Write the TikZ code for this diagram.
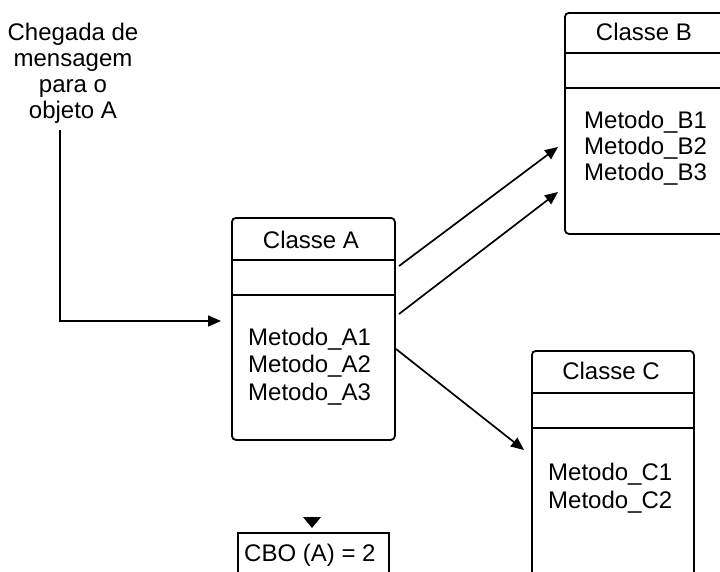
\documentclass[tikz,border=0pt]{standalone}
\usepackage{fontspec}
\setmainfont{Liberation Sans}
\usetikzlibrary{arrows.meta}
\begin{document}
\begin{tikzpicture}[x=1pt,y=-1pt,
  every node/.style={inner sep=0pt},
  txt/.style={font=\fontsize{24}{27.5}\selectfont},
  classbox/.style={draw, line width=1.8pt, rounded corners=4pt, anchor=north west, minimum width=163pt},
  plainbox/.style={draw, line width=1.8pt, anchor=north west},
  link/.style={line width=1.7pt, -{Triangle[length=13pt,width=11pt]}},
  divider/.style={line width=1.8pt}]
\useasboundingbox (0,0) rectangle (720,571);
\clip (0,0) rectangle (720,571);

% incoming message
\node[txt, align=center, font=\fontsize{24}{25.7}\selectfont, anchor=base] (msg) at (73,118)
  {Chegada de\\mensagem\\para o\\objeto A};
\coordinate (msg-out) at (60,130);
\coordinate (a-in) at (221,321);

% class A
\node[classbox, minimum height=222pt] (A) at (231,217) {};
\draw[divider] ([yshift=-43pt]A.north west) -- ([yshift=-43pt]A.north east);
\draw[divider] ([yshift=-78pt]A.north west) -- ([yshift=-78pt]A.north east);
\node[txt, anchor=base] (A-title) at (311,248) {Classe A};
\node[txt, align=left, anchor=base west] (A-methods) at (248,400)
  {Metodo\_A1\\Metodo\_A2\\Metodo\_A3};

% class B
\node[classbox, minimum height=221pt] (B) at (564,12) {};
\draw[divider] ([yshift=-41pt]B.north west) -- ([yshift=-41pt]B.north east);
\draw[divider] ([yshift=-76pt]B.north west) -- ([yshift=-76pt]B.north east);
\node[txt, anchor=base] (B-title) at (644,40) {Classe B};
\node[txt, align=left, anchor=base west, font=\fontsize{24}{26}\selectfont] (B-methods) at (584,180)
  {Metodo\_B1\\Metodo\_B2\\Metodo\_B3};

% class C
\node[classbox, minimum width=162pt, minimum height=260pt] (C) at (531,350) {};
\draw[divider] ([yshift=-43pt]C.north west) -- ([yshift=-43pt]C.north east);
\draw[divider] ([yshift=-78pt]C.north west) -- ([yshift=-78pt]C.north east);
\node[txt, anchor=base] (C-title) at (611,379) {Classe C};
\node[txt, align=left, anchor=base west, font=\fontsize{24}{28}\selectfont] (C-methods) at (548,508)
  {Metodo\_C1\\Metodo\_C2};

% coupling result
\node[plainbox, minimum width=151pt, minimum height=60pt] (cbo) at (237,532) {};
\node[txt, anchor=base west] (cbo-text) at (244,561) {CBO (A) = 2};
\fill (303,517) -- (321,517) -- (312,528) -- cycle;

% connector end points
\coordinate (a-b1) at (399,266);
\coordinate (b-in1) at (558,147);
\coordinate (a-b2) at (399,314);
\coordinate (b-in2) at (558,192);
\coordinate (a-c) at (396,349);
\coordinate (c-in) at (524,450);

% connectors
\draw[link] (msg-out) |- (a-in);
\draw[link] (a-b1) -- (b-in1);
\draw[link] (a-b2) -- (b-in2);
\draw[link] (a-c) -- (c-in);
\end{tikzpicture}
\end{document}
